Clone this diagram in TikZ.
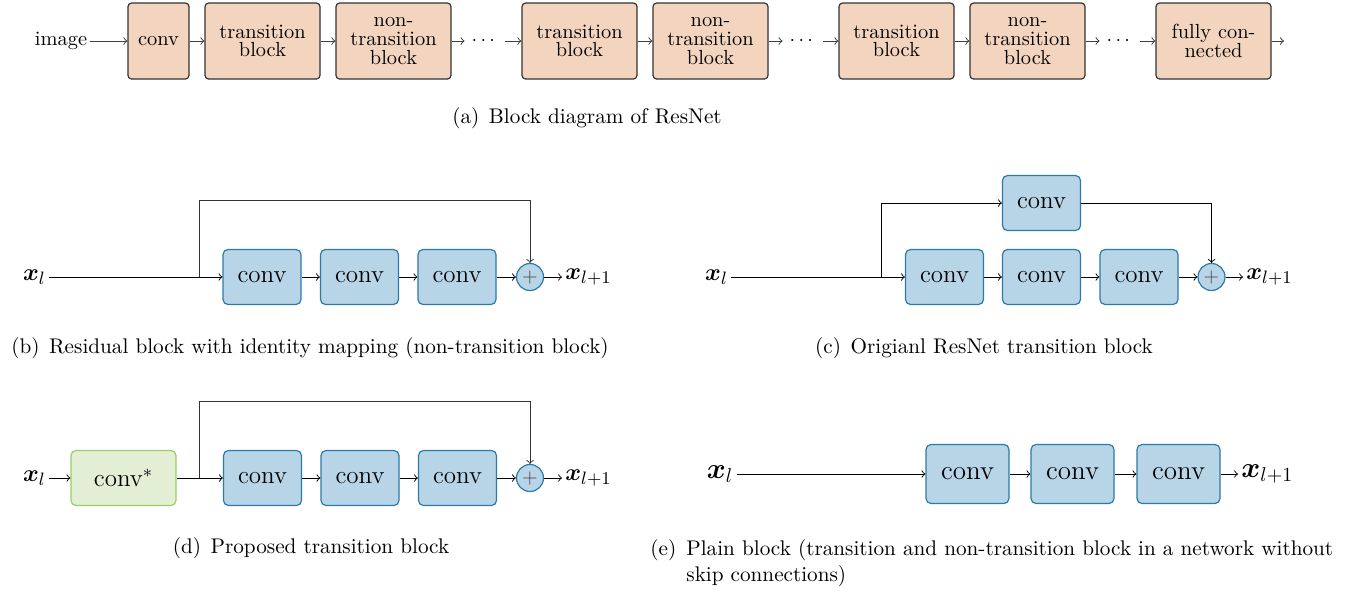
\documentclass[tikz,border=0pt]{standalone}
\usepackage{amsmath}
\usetikzlibrary{calc,positioning}
\definecolor{peach}{HTML}{F3D5BF}
\definecolor{boxblue}{HTML}{B8D4E7}
\definecolor{edgeblue}{HTML}{2B7BA8}
\definecolor{boxgreen}{HTML}{E3EFD5}
\definecolor{edgegreen}{HTML}{9CCB6A}
\tikzset{
  netblock/.style={draw=black!80, fill=peach, rounded corners=1.8pt, line width=0.6pt,
    minimum width=57.5pt, minimum height=38pt, inner sep=1pt, align=center,
    font=\fontsize{10.2}{9.3}\selectfont},
  convbox/.style={draw=edgeblue, fill=boxblue, rounded corners=2.5pt, line width=0.6pt,
    minimum width=39pt, minimum height=27.5pt, inner sep=1pt, font=\fontsize{12.5}{14}\selectfont},
  bigconv/.style={convbox, minimum width=41.5pt, minimum height=29.5pt, font=\fontsize{13.5}{15}\selectfont},
  starconv/.style={convbox, draw=edgegreen, fill=boxgreen, minimum width=52.5pt},
  addnode/.style={circle, draw=edgeblue, fill=boxblue, line width=0.6pt, minimum size=13.5pt,
    inner sep=0pt, text=black!70, font=\normalsize},
  signal/.style={inner sep=1.5pt, font=\fontsize{13.2}{15}\selectfont},
  toparrow/.style={->, draw=black!75, line width=0.5pt},
  flow/.style={->, line width=0.45pt},
  subcap/.style={inner sep=0pt, font=\fontsize{10.6}{13}\selectfont}
}
\begin{document}
\begin{tikzpicture}[x=0.5pt, y=-0.5pt]
  \useasboundingbox (0,0) rectangle (1356,591);

  % (a) block diagram of the whole network
  \node[inner sep=1.5pt, font=\fontsize{10.2}{12}\selectfont] (a-image) at (61,41) {image};
  \node[netblock, minimum width=30.5pt] (a-conv) at (158.5,41) {conv};
  \node[netblock] (a-t1) at (262.5,41) {transition\\block};
  \node[netblock] (a-n1) at (393.5,41) {non-\\transition\\block};
  \node[font=\fontsize{10}{12}\selectfont] (a-d1) at (485,41) {$\cdots$};
  \node[netblock] (a-t2) at (579.5,41) {transition\\block};
  \node[netblock] (a-n2) at (710.5,41) {non-\\transition\\block};
  \node[font=\fontsize{10}{12}\selectfont] (a-d2) at (803,41) {$\cdots$};
  \node[netblock] (a-t3) at (896.5,41) {transition\\block};
  \node[netblock] (a-n3) at (1027.5,41) {non-\\transition\\block};
  \node[font=\fontsize{10}{12}\selectfont] (a-d3) at (1120,41) {$\cdots$};
  \node[netblock] (a-fc) at (1213.5,41) {fully con-\\nected};
  \coordinate (a-out) at (1284,41);
  \foreach \from/\to in {a-image/a-conv, a-conv/a-t1, a-t1/a-n1, a-n1/a-d1, a-d1/a-t2,
      a-t2/a-n2, a-n2/a-d2, a-d2/a-t3, a-t3/a-n3, a-n3/a-d3, a-d3/a-fc, a-fc/a-out} {
    \draw[toparrow] (\from) -- (\to);
  }
  \node[subcap] (cap-a) at (587,118) {(a)\hspace{0.45em}Block diagram of ResNet};

  % (b) residual block with identity mapping
  \node[signal] (b-in) at (34.5,277) {$\boldsymbol{x}_l$};
  \node[convbox] (b-c1) at (262,277) {conv};
  \node[convbox] (b-c2) at (359.5,277) {conv};
  \node[convbox] (b-c3) at (457,277) {conv};
  \node[addnode] (b-add) at (530,277) {$+$};
  \node[signal, anchor=west] (b-out) at (562,277) {$\boldsymbol{x}_{l+1}$};
  \coordinate (b-split) at (199,277);
  \draw[flow] (b-in) -- (b-c1);
  \draw[flow] (b-c1) -- (b-c2);
  \draw[flow] (b-c2) -- (b-c3);
  \draw[flow] (b-c3) -- (b-add);
  \draw[flow] (b-add) -- (b-out);
  \draw[flow, draw=black!80] (b-split) -- ++(0,-77) -| (b-add);
  \node[subcap] (cap-b) at (310,348) {(b)\hspace{0.45em}Residual block with identity mapping (non-transition block)};

  % (c) original ResNet transition block
  \node[signal] (c-in) at (716.5,277) {$\boldsymbol{x}_l$};
  \node[convbox] (c-c1) at (944.5,277) {conv};
  \node[convbox] (c-c2) at (1041.5,277) {conv};
  \node[convbox] (c-c3) at (1139,277) {conv};
  \node[convbox] (c-top) at (1041.5,203) {conv};
  \node[addnode] (c-add) at (1211.5,277) {$+$};
  \node[signal, anchor=west] (c-out) at (1243,277) {$\boldsymbol{x}_{l+1}$};
  \coordinate (c-split) at (881,277);
  \draw[flow] (c-in) -- (c-c1);
  \draw[flow] (c-c1) -- (c-c2);
  \draw[flow] (c-c2) -- (c-c3);
  \draw[flow] (c-c3) -- (c-add);
  \draw[flow] (c-add) -- (c-out);
  \draw[flow] (c-split) |- (c-top);
  \draw[flow] (c-top) -| (c-add);
  \node[subcap] (cap-c) at (984,348) {(c)\hspace{0.45em}Origianl ResNet transition block};

  % (d) proposed transition block
  \node[signal] (d-in) at (34.5,478) {$\boldsymbol{x}_l$};
  \node[starconv] (d-star) at (123.5,478) {conv$^*$};
  \node[convbox] (d-c1) at (262.5,478) {conv};
  \node[convbox] (d-c2) at (360,478) {conv};
  \node[convbox] (d-c3) at (457.5,478) {conv};
  \node[addnode] (d-add) at (530,478) {$+$};
  \node[signal, anchor=west] (d-out) at (562,478) {$\boldsymbol{x}_{l+1}$};
  \coordinate (d-split) at (199,478);
  \draw[flow] (d-in) -- (d-star);
  \draw[flow] (d-star) -- (d-c1);
  \draw[flow] (d-c1) -- (d-c2);
  \draw[flow] (d-c2) -- (d-c3);
  \draw[flow] (d-c3) -- (d-add);
  \draw[flow] (d-add) -- (d-out);
  \draw[flow, draw=black!80] (d-split) -- ++(0,-77) -| (d-add);
  \node[subcap] (cap-d) at (311,548) {(d)\hspace{0.45em}Proposed transition block};

  % (e) plain block
  \node[signal, font=\fontsize{14}{16}\selectfont] (e-in) at (720,474) {$\boldsymbol{x}_l$};
  \node[bigconv] (e-c1) at (967.5,474) {conv};
  \node[bigconv] (e-c2) at (1072.5,474) {conv};
  \node[bigconv] (e-c3) at (1178.5,474) {conv};
  \node[signal, anchor=west, font=\fontsize{14}{16}\selectfont] (e-out) at (1238,474) {$\boldsymbol{x}_{l+1}$};
  \draw[flow] (e-in) -- (e-c1);
  \draw[flow] (e-c1) -- (e-c2);
  \draw[flow] (e-c2) -- (e-c3);
  \draw[flow] (e-c3) -- (e-out);
  \node[subcap, anchor=north west, align=left] (cap-e) at (650,539)
    {\makebox[18pt][l]{(e)}Plain block (transition and non-transition block in a network without\\
     \hspace*{18pt}skip connections)};

\end{tikzpicture}
\end{document}
